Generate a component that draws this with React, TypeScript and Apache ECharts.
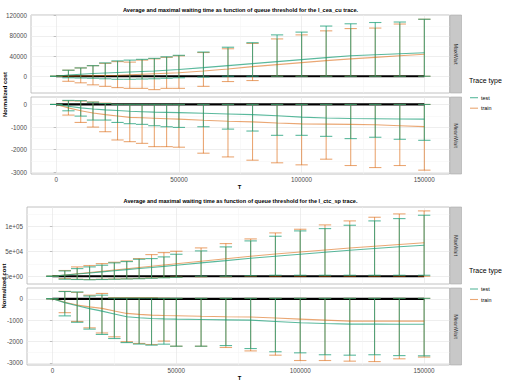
import React, { useEffect, useRef } from "react";
import * as echarts from "echarts";

// Queue threshold values (x axis)
const T = [0, 5000, 10000, 15000, 20000, 25000, 30000, 35000, 40000, 45000, 50000, 60000, 70000, 80000, 90000, 100000, 110000, 120000, 130000, 140000, 150000];

// l_cea_cu trace, MaxWait facet
const ceaMaxTestMean = [0, 2500, 4000, 5500, 6500, 7500, 8500, 9500, 10500, 12000, 13500, 17000, 21000, 25000, 29000, 33000, 37000, 40500, 42500, 44500, 46500];
const ceaMaxTrainMean = [0, 300, 600, 1000, 1500, 2000, 3000, 4000, 5000, 6000, 7000, 10500, 14500, 19000, 23000, 27000, 31000, 34500, 37500, 40500, 43500];
const ceaMaxTestHigh = [0, 12000, 16500, 21000, 26500, 30500, 32000, 33500, 35500, 38500, 41500, 48000, 57500, 66500, 82000, 87500, 99500, 104000, 106500, 107500, 113000];
const ceaMaxTestLow = [0, -3000, -3500, -4000, -5000, -6000, -6000, -5500, -5000, -4000, -3000, -1500, 0, 0, 0, 0, 0, 0, 0, 0, 0];
const ceaMaxTrainHigh = [0, 12000, 16500, 21000, 25500, 29000, 28000, 32000, 34500, 37500, 40500, 47000, 54500, 65000, 74000, 82000, 90000, 94500, 95500, 103500, 113000];
const ceaMaxTrainLow = [0, -10000, -13000, -17000, -20000, -22500, -24000, -24000, -26500, -24000, -24000, -20000, -10500, -8500, 0, 0, 0, 0, 0, 0, 0];

// l_cea_cu trace, MeanWait facet
const ceaMeanTestMean = [0, -80, -150, -200, -240, -270, -300, -320, -340, -350, -360, -390, -420, -450, -500, -560, -600, -620, -630, -640, -650];
const ceaMeanTrainMean = [0, -150, -280, -380, -450, -510, -570, -590, -610, -630, -650, -700, -740, -770, -820, -860, -870, -880, -900, -940, -980];
const ceaMeanTestHigh = [0, 180, 170, 100, 40, 0, 0, 0, 0, 0, 0, 0, 0, 0, 0, 0, 0, 0, 0, 0, 0];
const ceaMeanTestLow = [0, -280, -515, -690, -690, -795, -850, -880, -940, -985, -1015, -985, -1090, -1175, -1365, -1365, -1410, -1510, -1450, -1540, -1585];
const ceaMeanTrainHigh = [0, 160, 150, 110, 60, 0, 0, 0, 0, 0, 0, 0, 0, 0, 0, 0, 0, 0, 0, 0, 0];
const ceaMeanTrainLow = [0, -470, -795, -1000, -1205, -1570, -1645, -1720, -1865, -1865, -1890, -2155, -2320, -2465, -2580, -2670, -2420, -2700, -2790, -2700, -2905];

// l_ctc_sp trace, MaxWait facet
const ctcMaxTestMean = [0, 2200, 4400, 6600, 8800, 11000, 13200, 15400, 17500, 19700, 22000, 26700, 31300, 36000, 40000, 44000, 48000, 52000, 55500, 59000, 62000];
const ctcMaxTrainMean = [0, 2500, 5000, 7500, 10000, 12500, 15000, 17500, 20000, 22500, 25000, 30000, 35000, 40000, 44500, 48500, 52500, 56500, 60000, 63500, 67000];
const ctcMaxTestHigh = [0, 10700, 15300, 18700, 22000, 26700, 29300, 34000, 35300, 38700, 44000, 50700, 58700, 70700, 80000, 90700, 95300, 102000, 110700, 115300, 122000];
const ctcMaxTestLow = [0, -6000, -6500, -7000, -6500, -6000, -5500, -5000, -4000, -3000, -2000, 0, 0, 1000, 2000, 2000, 2000, 2000, 2000, 2000, 2000];
const ctcMaxTrainHigh = [0, 11500, 18700, 21300, 25300, 28000, 30700, 35300, 43300, 47300, 50000, 56700, 65300, 74700, 86700, 94000, 102700, 110700, 118000, 124700, 130700];
const ctcMaxTrainLow = [0, -4700, -6000, -6500, -6000, -5500, -5000, -4500, -3500, -2500, -1500, -1000, -1000, 0, 0, 0, 0, 0, 0, 0, 0];

// l_ctc_sp trace, MeanWait facet
const ctcMeanTestMean = [0, -180, -330, -460, -577, -710, -844, -890, -920, -940, -952, -970, -985, -1000, -1060, -1125, -1160, -1187, -1187, -1190, -1190];
const ctcMeanTrainMean = [0, -160, -295, -380, -450, -570, -685, -730, -765, -785, -797, -820, -840, -850, -900, -952, -1000, -1046, -1046, -1046, -1046];
const ctcMeanTestHigh = [0, 340, 320, 130, 170, 30, 30, 30, 30, 20, 20, 20, 20, 20, 20, 20, 20, 20, 20, 20, 20];
const ctcMeanTestLow = [0, -800, -1100, -1420, -1670, -1860, -2050, -2120, -2170, -2125, -2220, -2220, -2190, -2330, -2480, -2530, -2620, -2640, -2620, -2660, -2670];
const ctcMeanTrainHigh = [0, 350, 300, 170, 250, 50, 50, 50, 50, 30, 20, 20, 20, 20, 20, 20, 20, 20, 20, 20, 20];
const ctcMeanTrainLow = [0, -650, -1060, -1360, -1600, -1780, -2010, -2090, -2140, -1980, -2220, -2220, -2280, -2440, -2640, -2890, -2890, -2920, -2940, -2810, -2730];

// Axis ticks and their labels
const xTicks = [0, 50000, 100000, 150000];
const xTickLabels = ["0", "50000", "100000", "150000"];
const xMinorTicks = [25000, 75000, 125000];
const ceaMaxTicks = [0, 40000, 80000, 120000];
const ceaMaxLabels = ["0", "40000", "80000", "120000"];
const ceaMaxMinor = [-20000, 20000, 60000, 100000];
const meanTicks = [0, -1000, -2000, -3000];
const meanLabels = ["0", "-1000", "-2000", "-3000"];
const meanMinor = [-500, -1500, -2500];
const ctcMaxTicks = [0, 50000, 100000];
const ctcMaxLabels = ["0e+00", "5e+04", "1e+05"];
const ctcMaxMinor = [25000, 75000, 125000];

const titles = [
  "Average and maximal waiting time as function of queue threshold for the l_cea_cu trace.",
  "Average and maximal waiting time as function of queue threshold for the l_ctc_sp trace.",
];
const legendItems = ["test", "train"];

const FONT = "'Liberation Sans', Arial, sans-serif";
const TEST_COLOR = "rgba(27,158,119,0.72)";
const TRAIN_COLOR = "rgba(217,95,2,0.55)";
const CAP_WIDTH = 5000;
const X_MIN = -10250;
const X_MAX = 160250;

type Panel = {
  rect: { left: number; top: number; width: number; height: number };
  yMin: number;
  yMax: number;
  yTicks: number[];
  yLabels: string[];
  yMinor: number[];
  showX: boolean;
  strip: string;
  testMean: number[];
  trainMean: number[];
  testLow: number[];
  testHigh: number[];
  trainLow: number[];
  trainHigh: number[];
};

const panels: Panel[] = [
  {
    rect: { left: 31, top: 15, width: 418.5, height: 78 },
    yMin: -33200, yMax: 121400, yTicks: ceaMaxTicks, yLabels: ceaMaxLabels, yMinor: ceaMaxMinor,
    showX: false, strip: "MaxWait",
    testMean: ceaMaxTestMean, trainMean: ceaMaxTrainMean,
    testLow: ceaMaxTestLow, testHigh: ceaMaxTestHigh, trainLow: ceaMaxTrainLow, trainHigh: ceaMaxTrainHigh,
  },
  {
    rect: { left: 31, top: 97, width: 418.5, height: 77 },
    yMin: -3075, yMax: 330, yTicks: meanTicks, yLabels: meanLabels, yMinor: meanMinor,
    showX: true, strip: "MeanWait",
    testMean: ceaMeanTestMean, trainMean: ceaMeanTrainMean,
    testLow: ceaMeanTestLow, testHigh: ceaMeanTestHigh, trainLow: ceaMeanTrainLow, trainHigh: ceaMeanTrainHigh,
  },
  {
    rect: { left: 27, top: 207, width: 422.5, height: 77 },
    yMin: -15500, yMax: 138500, yTicks: ctcMaxTicks, yLabels: ctcMaxLabels, yMinor: ctcMaxMinor,
    showX: false, strip: "MaxWait",
    testMean: ctcMaxTestMean, trainMean: ctcMaxTrainMean,
    testLow: ctcMaxTestLow, testHigh: ctcMaxTestHigh, trainLow: ctcMaxTrainLow, trainHigh: ctcMaxTrainHigh,
  },
  {
    rect: { left: 27, top: 288, width: 422.5, height: 77 },
    yMin: -3100, yMax: 505, yTicks: meanTicks, yLabels: meanLabels, yMinor: meanMinor,
    showX: true, strip: "MeanWait",
    testMean: ctcMeanTestMean, trainMean: ctcMeanTrainMean,
    testLow: ctcMeanTestLow, testHigh: ctcMeanTestHigh, trainLow: ctcMeanTrainLow, trainHigh: ctcMeanTrainHigh,
  },
];

function errorBars(idx: number, low: number[], high: number[], color: string, z: number) {
  return {
    type: "custom",
    xAxisIndex: idx,
    yAxisIndex: idx,
    z,
    clip: false,
    data: T.map((t, i) => [t, low[i], high[i]]),
    encode: { x: 0, y: [1, 2] },
    renderItem: (_params: any, api: any) => {
      const x = api.value(0);
      const lo = api.coord([x, api.value(1)]);
      const hi = api.coord([x, api.value(2)]);
      const half = api.size([CAP_WIDTH, 0])[0] / 2;
      const style = { stroke: color, lineWidth: 1.1, fill: null };
      return {
        type: "group",
        children: [
          { type: "line", shape: { x1: lo[0], y1: lo[1], x2: hi[0], y2: hi[1] }, style },
          { type: "line", shape: { x1: lo[0] - half, y1: lo[1], x2: lo[0] + half, y2: lo[1] }, style },
          { type: "line", shape: { x1: hi[0] - half, y1: hi[1], x2: hi[0] + half, y2: hi[1] }, style },
        ],
      };
    },
  };
}

function meanLine(idx: number, values: number[], color: string, z: number) {
  return {
    type: "line",
    xAxisIndex: idx,
    yAxisIndex: idx,
    z,
    symbol: "none",
    data: T.map((t, i) => [t, values[i]]),
    lineStyle: { color, width: 1.1 },
  };
}

function buildOption() {
  const grid = panels.map((p) => ({
    ...p.rect,
    show: true,
    backgroundColor: "#ffffff",
    borderColor: "#b3b3b3",
    borderWidth: 0.8,
  }));

  const xAxis: any[] = [];
  const yAxis: any[] = [];
  panels.forEach((p, i) => {
    xAxis.push({
      type: "value",
      gridIndex: i,
      position: "bottom",
      min: X_MIN,
      max: X_MAX,
      axisLine: { show: false },
      axisTick: { show: p.showX, customValues: xTicks, length: 2.5, lineStyle: { color: "#b3b3b3", width: 0.8 } },
      axisLabel: {
        show: p.showX,
        customValues: xTicks,
        margin: 2.5,
        fontSize: 6.3,
        fontFamily: FONT,
        color: "#4d4d4d",
        formatter: (v: number) => xTickLabels[xTicks.indexOf(v)] ?? "",
      },
      splitLine: { show: true, lineStyle: { color: "#e6e6e6", width: 0.7 } },
    });
    yAxis.push({
      type: "value",
      gridIndex: i,
      position: "left",
      min: p.yMin,
      max: p.yMax,
      axisLine: { show: false },
      axisTick: { show: true, customValues: p.yTicks, length: 2.5, lineStyle: { color: "#b3b3b3", width: 0.8 } },
      axisLabel: {
        show: true,
        customValues: p.yTicks,
        margin: 4,
        fontSize: 6.3,
        fontFamily: FONT,
        color: "#4d4d4d",
        formatter: (v: number) => p.yLabels[p.yTicks.indexOf(v)] ?? "",
      },
      splitLine: { show: true, lineStyle: { color: "#e6e6e6", width: 0.7 } },
    });
  });
  // minor grid lines on secondary axes
  panels.forEach((p, i) => {
    xAxis.push({
      type: "value",
      gridIndex: i,
      position: "top",
      min: X_MIN,
      max: X_MAX,
      axisLine: { show: false },
      axisTick: { show: false, customValues: xMinorTicks },
      axisLabel: { show: false, customValues: xMinorTicks },
      splitLine: { show: true, lineStyle: { color: "#f2f2f2", width: 0.5 } },
    });
    yAxis.push({
      type: "value",
      gridIndex: i,
      position: "right",
      min: p.yMin,
      max: p.yMax,
      axisLine: { show: false },
      axisTick: { show: false, customValues: p.yMinor },
      axisLabel: { show: false, customValues: p.yMinor },
      splitLine: { show: true, lineStyle: { color: "#f2f2f2", width: 0.5 } },
    });
  });

  const series: any[] = [];
  panels.forEach((p, i) => {
    series.push({
      type: "line",
      xAxisIndex: i,
      yAxisIndex: i,
      z: 2,
      symbol: "none",
      data: T.map((t) => [t, 0]),
      lineStyle: { color: "#000000", width: 2.2 },
    });
    series.push(errorBars(i, p.trainLow, p.trainHigh, TRAIN_COLOR, 3));
    series.push(errorBars(i, p.testLow, p.testHigh, TEST_COLOR, 4));
    series.push(meanLine(i, p.trainMean, TRAIN_COLOR, 5));
    series.push(meanLine(i, p.testMean, TEST_COLOR, 6));
  });

  const graphic: any[] = [];
  // facet strips
  panels.forEach((p) => {
    const x = p.rect.left + p.rect.width + 0.8;
    graphic.push({
      type: "rect",
      shape: { x, y: p.rect.top, width: 11.2, height: p.rect.height },
      style: { fill: "#c8c8c8", stroke: "#a8a8a8", lineWidth: 0.6 },
    });
    graphic.push({
      type: "text",
      x: x + 5.6,
      y: p.rect.top + p.rect.height / 2,
      rotation: -Math.PI / 2,
      style: { text: p.strip, fontSize: 5.5, fontFamily: FONT, fill: "#333333", align: "center", verticalAlign: "middle" },
    });
  });

  const figures = [
    { titleY: 9.5, ylabY: 94.5, ylabX: 4.5, tX: 239.5, tY: 186.5, legY: 80, keyY: 97.7 },
    { titleY: 201, ylabY: 286, ylabX: 4, tX: 239.5, tY: 377.5, legY: 270.7, keyY: 289 },
  ];
  figures.forEach((f, k) => {
    graphic.push({
      type: "text",
      x: 240.5,
      y: f.titleY,
      style: { text: titles[k], fontSize: 5.6, fontWeight: "bold", fontFamily: FONT, fill: "#000", align: "center", verticalAlign: "middle" },
    });
    graphic.push({
      type: "text",
      x: f.ylabX,
      y: f.ylabY,
      rotation: Math.PI / 2,
      style: { text: "Normalized cost", fontSize: 5.8, fontWeight: "bold", fontFamily: FONT, fill: "#000", align: "center", verticalAlign: "middle" },
    });
    graphic.push({
      type: "text",
      x: f.tX,
      y: f.tY,
      style: { text: "T", fontSize: 5.8, fontWeight: "bold", fontFamily: FONT, fill: "#000", align: "center", verticalAlign: "middle" },
    });
    graphic.push({
      type: "text",
      x: 469,
      y: f.legY,
      style: { text: "Trace type", fontSize: 7, fontFamily: FONT, fill: "#000", align: "left", verticalAlign: "middle" },
    });
    legendItems.forEach((name, j) => {
      const y = f.keyY + j * 10.5;
      graphic.push({
        type: "line",
        shape: { x1: 470, y1: y, x2: 478, y2: y },
        style: { stroke: j === 0 ? TEST_COLOR : TRAIN_COLOR, lineWidth: 1.1 },
      });
      graphic.push({
        type: "text",
        x: 481,
        y,
        style: { text: name, fontSize: 5.4, fontFamily: FONT, fill: "#000", align: "left", verticalAlign: "middle" },
      });
    });
  });

  return {
    animation: false,
    backgroundColor: "#ffffff",
    grid,
    xAxis,
    yAxis,
    series,
    graphic,
  };
}

export default function App() {
  const ref = useRef<HTMLDivElement | null>(null);
  useEffect(() => {
    if (!ref.current) return;
    const chart = echarts.init(ref.current, undefined, { renderer: "svg" });
    chart.setOption(buildOption() as any);
    return () => chart.dispose();
  }, []);
  return <div ref={ref} style={{ position: "fixed", left: 0, top: 0, width: 510, height: 381 }} />;
}
